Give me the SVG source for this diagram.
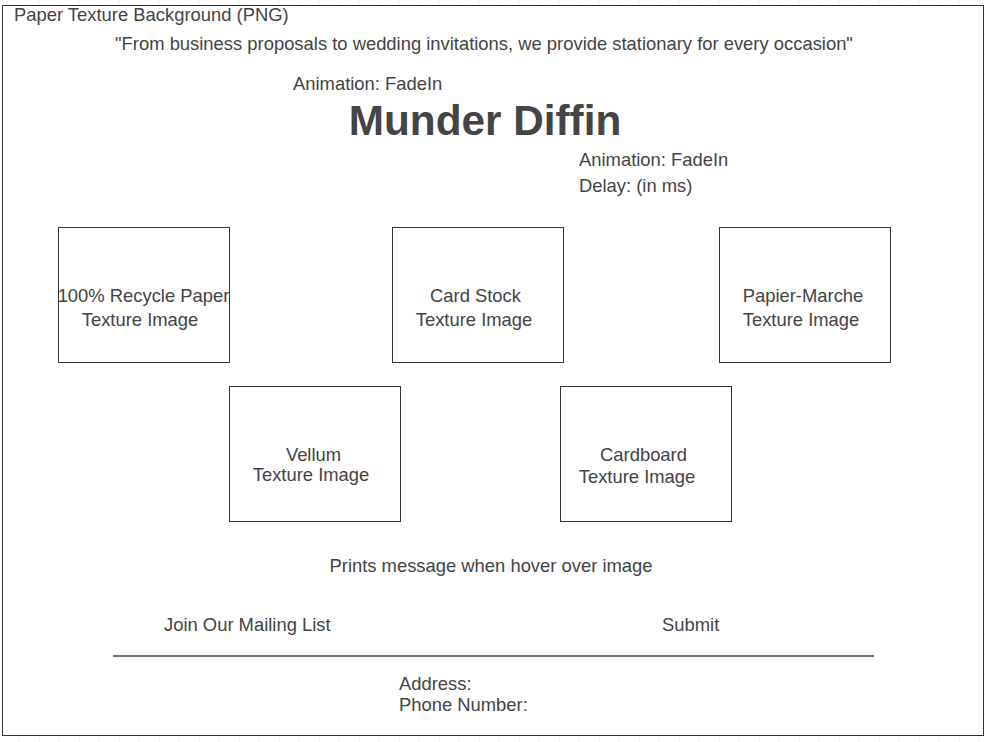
<svg xmlns="http://www.w3.org/2000/svg" width="985" height="742" viewBox="0 0 985 742">
<defs>
<pattern id="grid" width="20" height="20" patternUnits="userSpaceOnUse" x="0" y="-5">
<path d="M20 0 V20 M0 20 H20" fill="none" stroke="#e6e6e6" stroke-width="1"/>
</pattern>
<style>
text{font-family:"Liberation Sans",Arial,sans-serif;font-size:18.4px;fill:#444444}
.box{fill:#ffffff;stroke:#333333;stroke-width:1}
.c{text-anchor:middle}
</style>
</defs>
<rect width="985" height="742" fill="#ffffff"/>
<rect width="985" height="742" fill="url(#grid)"/>
<g id="frame">
<rect x="2.5" y="5.5" width="981" height="730" fill="#ffffff" stroke="#333333" stroke-width="1"/>
<text x="14" y="21">Paper Texture Background (PNG)</text>
</g>
<g id="tagline"><text class="c" x="484" y="50">"From business proposals to wedding invitations, we provide stationary for every occasion"</text></g>
<g id="anim1"><text x="293" y="90">Animation: FadeIn</text></g>
<g id="title"><text class="c" x="485" y="135" style="font-size:42.3px;font-weight:bold">Munder Diffin</text></g>
<g id="anim2"><text x="579" y="166">Animation: FadeIn</text><text x="579" y="192">Delay: (in ms)</text></g>
<g id="box1"><rect class="box" x="58.5" y="227.5" width="171" height="135"/><text class="c" x="143.5" y="302">100% Recycle Paper</text><text class="c" x="140" y="326">Texture Image</text></g>
<g id="box2"><rect class="box" x="392.5" y="227.5" width="171" height="135"/><text class="c" x="475.5" y="302">Card Stock</text><text class="c" x="474" y="326">Texture Image</text></g>
<g id="box3"><rect class="box" x="719.5" y="227.5" width="171" height="135"/><text class="c" x="803" y="302">Papier-Marche</text><text class="c" x="801" y="326">Texture Image</text></g>
<g id="box4"><rect class="box" x="229.5" y="386.5" width="171" height="135"/><text class="c" x="313.5" y="461">Vellum</text><text class="c" x="311" y="481">Texture Image</text></g>
<g id="box5"><rect class="box" x="560.5" y="386.5" width="171" height="135"/><text class="c" x="643.5" y="461">Cardboard</text><text class="c" x="637" y="483">Texture Image</text></g>
<g id="hover"><text class="c" x="491" y="572">Prints message when hover over image</text></g>
<g id="mailing"><text x="164" y="631">Join Our Mailing List</text></g>
<g id="submit"><text x="662" y="631">Submit</text></g>
<g id="connectors"><line x1="113" y1="656" x2="874" y2="656" stroke="#707070" stroke-width="2"/></g>
<g id="contact"><text x="399" y="690">Address:</text><text x="399" y="711">Phone Number:</text></g>
</svg>
